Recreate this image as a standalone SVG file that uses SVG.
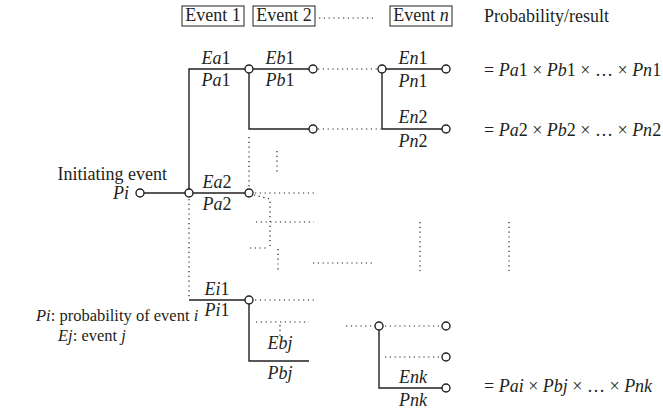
<svg xmlns="http://www.w3.org/2000/svg" width="663" height="413" viewBox="0 0 663 413">
  <style>
    text { font-family: "Liberation Serif", "Noto Serif", "DejaVu Serif", serif; font-size: 18px; fill: #231f20; }
    .c { text-anchor: middle; }
    .r { text-anchor: end; }
    .i { font-style: italic; }
    .legend { font-size: 16.5px; }
    .solid { fill: none; stroke: #231f20; stroke-width: 1.4; }
    .dot { fill: none; stroke: #231f20; stroke-width: 1.2; stroke-dasharray: 1.2 3.6; }
    .node { fill: #fff; stroke: #231f20; stroke-width: 1.4; }
    .box { fill: none; stroke: #231f20; stroke-width: 1; }
  </style>

  <!-- header row -->
  <g id="header">
    <rect class="box" x="182" y="6" width="62" height="20"/>
    <text x="213" y="21" class="c">Event 1</text>
    <rect class="box" x="253" y="6" width="62" height="20"/>
    <text x="284" y="21" class="c">Event 2</text>
    <line class="dot" x1="319" y1="18" x2="373" y2="18"/>
    <rect class="box" x="390" y="6" width="62" height="20"/>
    <text x="421" y="21" class="c">Event <tspan class="i">n</tspan></text>
    <text x="484" y="22">Probability/result</text>
  </g>

  <!-- connectors -->
  <g id="connectors">
    <!-- solid branches -->
    <path class="solid" d="M144 193 H249"/>
    <path class="solid" d="M189 193 V69 H313"/>
    <path class="solid" d="M249 69 V129 H313"/>
    <path class="solid" d="M382 69 H446"/>
    <path class="solid" d="M382 69 V129 H446"/>
    <path class="solid" d="M189 300 H249 V361 H309"/>
    <path class="solid" d="M379 326 V388 H446"/>

    <!-- dotted continuations -->
    <line class="dot" x1="318" y1="69" x2="378" y2="69"/>
    <line class="dot" x1="318" y1="129" x2="381" y2="129"/>
    <line class="dot" x1="249" y1="137" x2="249" y2="188"/>
    <line class="dot" x1="277" y1="151" x2="277" y2="174"/>
    <line class="dot" x1="255" y1="193" x2="314" y2="193"/>
    <path class="dot" d="M254 195 L270 199 V246"/>
    <line class="dot" x1="256" y1="222" x2="314" y2="222"/>
    <line class="dot" x1="250" y1="248" x2="268" y2="248"/>
    <line class="dot" x1="278" y1="249" x2="278" y2="271"/>
    <line class="dot" x1="313" y1="263" x2="373" y2="263"/>
    <line class="dot" x1="420" y1="222" x2="420" y2="271"/>
    <line class="dot" x1="509" y1="222" x2="509" y2="271"/>
    <line class="dot" x1="189" y1="199" x2="189" y2="297"/>
    <line class="dot" x1="255" y1="300" x2="314" y2="300"/>
    <line class="dot" x1="256" y1="322" x2="309" y2="322"/>
    <line class="dot" x1="280" y1="325" x2="280" y2="336"/>
    <line class="dot" x1="346" y1="326" x2="375" y2="326"/>
    <line class="dot" x1="385" y1="326" x2="442" y2="326"/>
    <line class="dot" x1="385" y1="357" x2="442" y2="357"/>
  </g>

  <!-- initiating event -->
  <g id="initiating">
    <text x="167" y="180" class="r">Initiating event</text>
    <text x="129" y="199" class="r i">Pi</text>
    <circle class="node" cx="140" cy="193" r="4"/>
  </g>

  <!-- event 1 branches -->
  <g id="event1">
    <circle class="node" cx="189" cy="193" r="4"/>
    <text x="216" y="64" class="c"><tspan class="i">Ea</tspan>1</text>
    <text x="216" y="86" class="c"><tspan class="i">Pa</tspan>1</text>
    <text x="217" y="188" class="c"><tspan class="i">Ea</tspan>2</text>
    <text x="217" y="210" class="c"><tspan class="i">Pa</tspan>2</text>
    <text x="217" y="295" class="c"><tspan class="i">Ei</tspan>1</text>
    <text x="217" y="316" class="c"><tspan class="i">Pi</tspan>1</text>
  </g>

  <!-- event 2 branches -->
  <g id="event2">
    <circle class="node" cx="249" cy="69" r="4"/>
    <circle class="node" cx="249" cy="193" r="4"/>
    <circle class="node" cx="249" cy="300" r="4"/>
    <text x="280" y="64" class="c"><tspan class="i">Eb</tspan>1</text>
    <text x="280" y="86" class="c"><tspan class="i">Pb</tspan>1</text>
    <text x="280" y="349" class="c i">Ebj</text>
    <text x="280" y="379" class="c i">Pbj</text>
  </g>

  <!-- intermediate nodes -->
  <g id="intermediate">
    <circle class="node" cx="313" cy="69" r="4"/>
    <circle class="node" cx="313" cy="129" r="4"/>
  </g>

  <!-- event n branches -->
  <g id="eventn">
    <circle class="node" cx="382" cy="69" r="4"/>
    <circle class="node" cx="446" cy="69" r="4"/>
    <circle class="node" cx="446" cy="129" r="4"/>
    <circle class="node" cx="379" cy="326" r="4"/>
    <circle class="node" cx="446" cy="326" r="4"/>
    <circle class="node" cx="446" cy="357" r="4"/>
    <circle class="node" cx="446" cy="388" r="4"/>
    <text x="413" y="64" class="c"><tspan class="i">En</tspan>1</text>
    <text x="413" y="87" class="c"><tspan class="i">Pn</tspan>1</text>
    <text x="413" y="123" class="c"><tspan class="i">En</tspan>2</text>
    <text x="413" y="147" class="c"><tspan class="i">Pn</tspan>2</text>
    <text x="413" y="383" class="c i">Enk</text>
    <text x="413" y="406" class="c i">Pnk</text>
  </g>

  <!-- results -->
  <g id="results">
    <text x="484" y="76">= <tspan class="i">Pa</tspan>1 × <tspan class="i">Pb</tspan>1 × … × <tspan class="i">Pn</tspan>1</text>
    <text x="484" y="136">= <tspan class="i">Pa</tspan>2 × <tspan class="i">Pb</tspan>2 × … × <tspan class="i">Pn</tspan>2</text>
    <text x="484" y="392">= <tspan class="i">Pai</tspan> × <tspan class="i">Pbj</tspan> × … × <tspan class="i">Pnk</tspan></text>
  </g>

  <!-- legend -->
  <g id="legend">
    <text x="36" y="321" class="legend"><tspan class="i">Pi</tspan>: probability of event <tspan class="i">i</tspan></text>
    <text x="58" y="341" class="legend"><tspan class="i">Ej</tspan>: event <tspan class="i">j</tspan></text>
  </g>
</svg>
